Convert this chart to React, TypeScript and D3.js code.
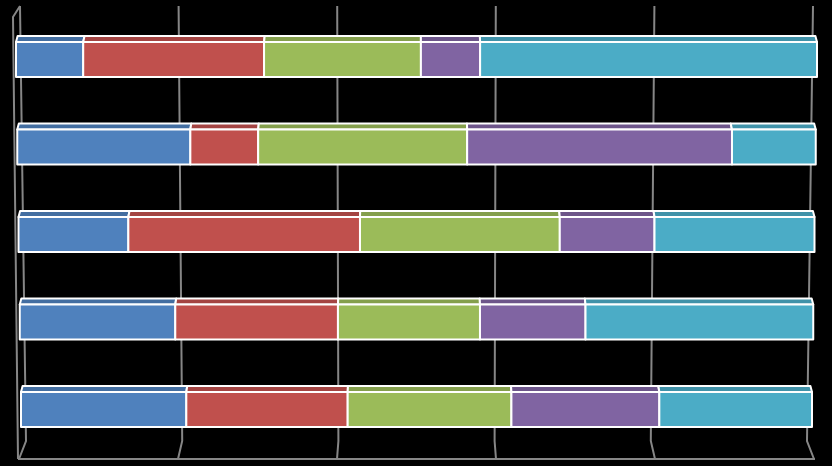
import React from "react";
import * as d3 from "d3";

const categories = ["Cat 1", "Cat 2", "Cat 3", "Cat 4", "Cat 5"]; // top to bottom
const seriesNames = ["Series 1", "Series 2", "Series 3", "Series 4", "Series 5"];
const series1 = [8.4, 21.7, 13.8, 19.6, 20.9];
const series2 = [22.6, 8.5, 29.1, 20.5, 20.4];
const series3 = [19.6, 26.2, 25.1, 17.9, 20.7];
const series4 = [7.4, 33.2, 11.9, 13.3, 18.7];
const series5 = [42.1, 10.5, 20.1, 28.7, 19.3];
const gridTicks = [0, 20, 40, 60, 80, 100];

const colors = ["#4F81BD", "#C0504D", "#9BBB59", "#8064A2", "#4BACC6"];

const W = 832;
const H = 466;

export default function App() {
  const allSeries = [series1, series2, series3, series4, series5];
  const rows = categories.map((c, i) => {
    const vals = allSeries.map((s) => s[i]);
    const total = d3.sum(vals);
    let acc = 0;
    return vals.map((v, k) => {
      const p0 = (acc / total) * 100;
      acc += v;
      const p1 = (acc / total) * 100;
      return { k, p0, p1 };
    });
  });

  const yBand = d3.scaleBand<string>().domain(categories).range([0, 437.5]).paddingInner(0.6).paddingOuter(0);
  const yRow = (c: string) => 42 + categories.indexOf(c) * 87.5;

  const gridTop = d3.scaleLinear().domain([0, 100]).range([20, 813]);
  const gridBack = d3.scaleLinear().domain([0, 100]).range([26, 807]);
  const gridFront = d3.scaleLinear().domain([0, 100]).range([19, 814]);

  const barH = 35;
  const depth = 6;
  const cx = 416.5;
  const k = 0.996;
  const gray = "#868686";

  return (
    <svg width={W} height={H} style={{ position: "fixed", left: 0, top: 0, display: "block" }}>
      <rect x={0} y={0} width={W} height={H} fill="#000" />
      <g fill="none" stroke={gray} strokeWidth={2}>
        {gridTicks.map((t) => (
          <polyline
            key={t}
            points={`${gridTop(t)},6 ${gridBack(t)},441 ${gridFront(t)},459`}
          />
        ))}
        <polyline points={`${gridTop(0)},6 13,17 18,459`} />
        <line x1={gridFront(0) - 1} y1={459} x2={gridFront(100) + 1} y2={459} />
      </g>
      {categories.map((c, i) => {
        const x = d3.scaleLinear().domain([0, 100]).range([16 + i * 1.25, 817 - i * 1.25]);
        const y = yRow(c);
        void yBand;
        return (
          <g key={c}>
            {rows[i].map((seg) => {
              const x0 = x(seg.p0);
              const x1 = x(seg.p1);
              const bx0 = cx + (x0 - cx) * k;
              const bx1 = cx + (x1 - cx) * k;
              const col = d3.color(colors[seg.k])!;
              const dark = d3.rgb(col).darker(0.45).toString();
              return (
                <g key={seg.k} stroke="#fff" strokeWidth={2} strokeLinejoin="round">
                  <polygon
                    points={`${x0},${y} ${bx0},${y - depth} ${bx1},${y - depth} ${x1},${y}`}
                    fill={dark}
                  />
                  <rect x={x0} y={y} width={x1 - x0} height={barH} fill={colors[seg.k]} />
                </g>
              );
            })}
          </g>
        );
      })}
      <title>{seriesNames.join(", ")}</title>
    </svg>
  );
}
